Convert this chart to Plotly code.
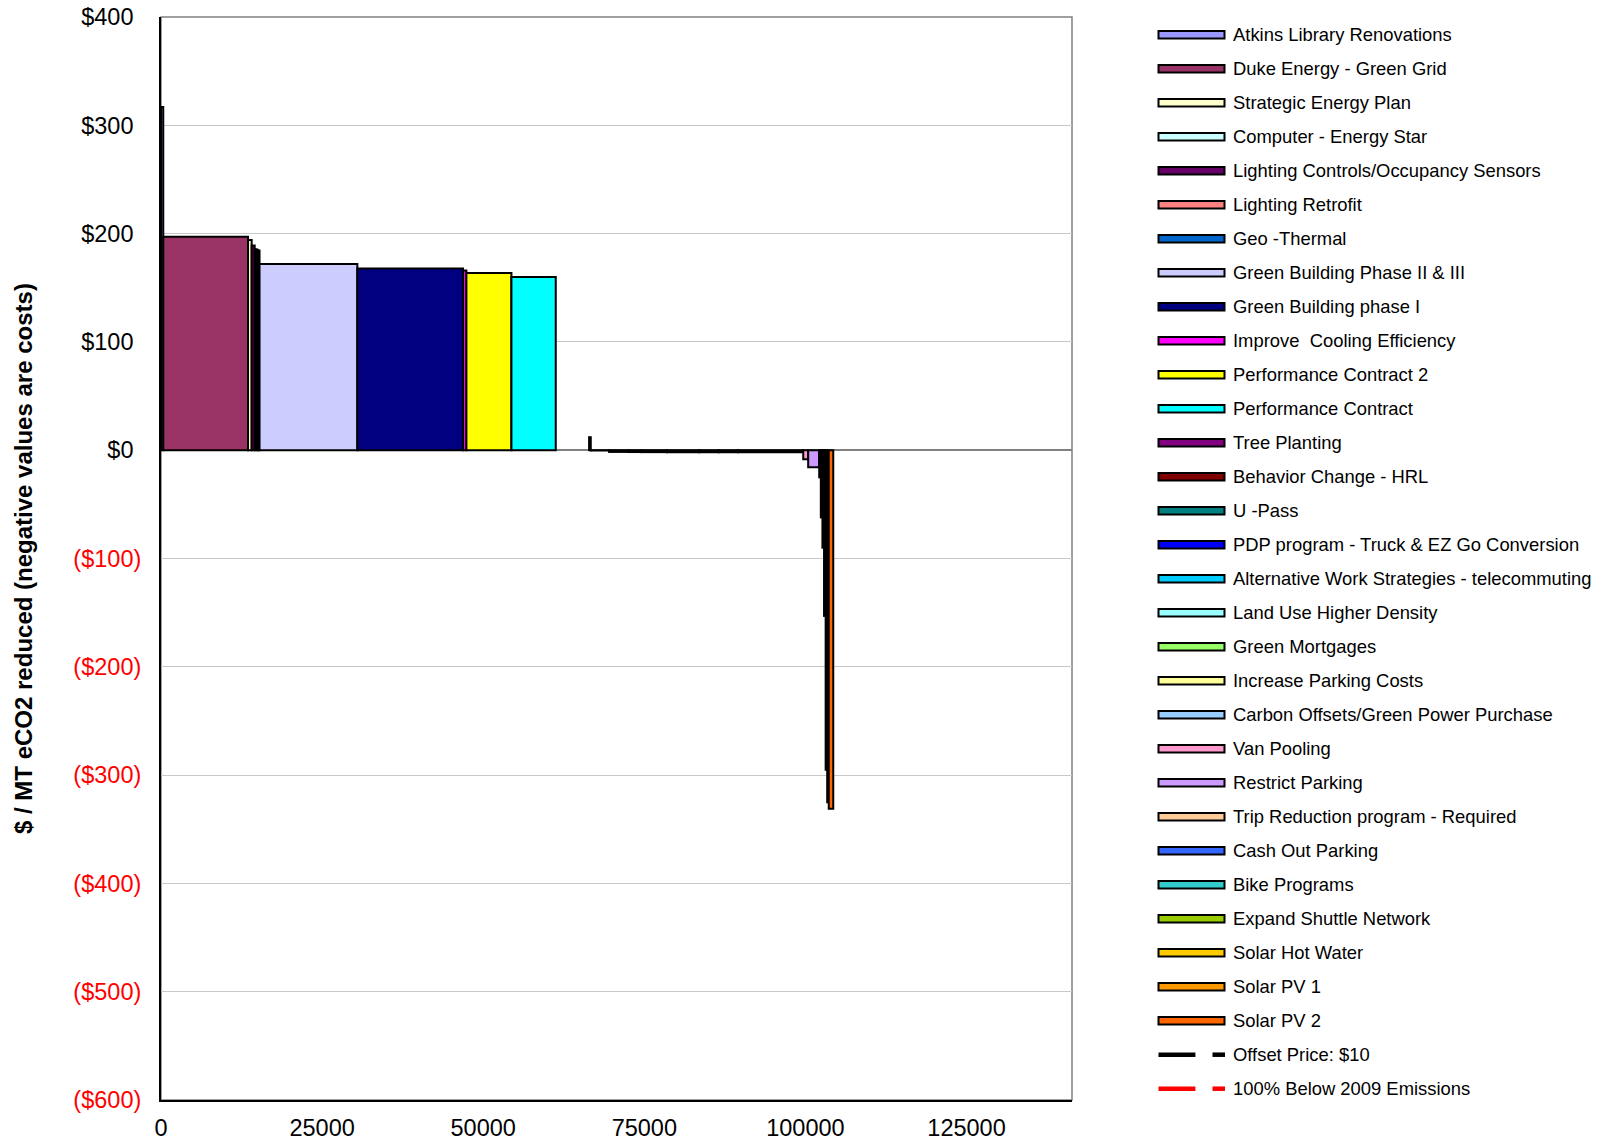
import plotly.graph_objects as go

# ---------------- data (in order along the x axis) ----------------
projects = [
    "Atkins Library Renovations", "Duke Energy - Green Grid", "Strategic Energy Plan",
    "Lighting Controls/Occupancy Sensors", "Computer - Energy Star", "Lighting Retrofit",
    "Geo -Thermal", "Green Building Phase II & III", "Green Building phase I",
    "Improve  Cooling Efficiency", "Performance Contract 2", "Performance Contract",
    None,
    "Tree Planting", "Behavior Change - HRL", "U -Pass", "PDP program - Truck & EZ Go Conversion",
    "Alternative Work Strategies - telecommuting", "Land Use Higher Density", "Green Mortgages",
    "Increase Parking Costs", "Carbon Offsets/Green Power Purchase", "Van Pooling",
    "Restrict Parking", "Trip Reduction program - Required", "Cash Out Parking",
    "Bike Programs", "Expand Shuttle Network", "Solar Hot Water", "Solar PV 1", "Solar PV 2",
]
# MT eCO2 reduced by each measure
reductions = [
    350, 13150, 570,
    470, 300, 200,
    250, 15180, 16400,
    520, 6990, 6880,
    5170,
    260, 2840, 3000, 2000,
    4000, 5000, 3000,
    3000, 10130, 770,
    1710, 250, 250,
    250, 250, 240, 240, 700,
]
# $ / MT eCO2 reduced
costs = [
    317, 197, 194,
    189, 185.5, 185,
    184.5, 172, 167.7,
    166, 163.7, 160,
    None,
    12, -0.3, -1.6, -1.7,
    -1.8, -1.8, -1.9,
    -1.9, -2.0, -8.4,
    -15.8, -25, -62,
    -90, -153, -295, -325, -331,
]

legend_names = [
    "Atkins Library Renovations", "Duke Energy - Green Grid", "Strategic Energy Plan",
    "Computer - Energy Star", "Lighting Controls/Occupancy Sensors", "Lighting Retrofit",
    "Geo -Thermal", "Green Building Phase II & III", "Green Building phase I",
    "Improve  Cooling Efficiency", "Performance Contract 2", "Performance Contract",
    "Tree Planting", "Behavior Change - HRL", "U -Pass", "PDP program - Truck & EZ Go Conversion",
    "Alternative Work Strategies - telecommuting", "Land Use Higher Density", "Green Mortgages",
    "Increase Parking Costs", "Carbon Offsets/Green Power Purchase", "Van Pooling",
    "Restrict Parking", "Trip Reduction program - Required", "Cash Out Parking",
    "Bike Programs", "Expand Shuttle Network", "Solar Hot Water", "Solar PV 1", "Solar PV 2",
]
legend_colors = [
    "#9999FF", "#993366", "#FFFFCC", "#CCFFFF", "#660066", "#FF8080", "#0066CC", "#CCCCFF",
    "#000080", "#FF00FF", "#FFFF00", "#00FFFF", "#800080", "#800000", "#008080", "#0000FF",
    "#00CCFF", "#99FFFF", "#99FF66", "#FFFF99", "#99CCFF", "#FF99CC", "#CC99FF", "#FFCC99",
    "#3366FF", "#33CCCC", "#99CC00", "#FFCC00", "#FF9900", "#FF6600",
]
line_series = ["Offset Price: $10", "100% Below 2009 Emissions"]
line_colors = ["#000000", "#FF0000"]

x_ticks = [0, 25000, 50000, 75000, 100000, 125000]
y_ticks = [400, 300, 200, 100, 0, -100, -200, -300, -400, -500, -600]

color_of = dict(zip(legend_names, legend_colors))

# ---------------- figure ----------------
fig = go.Figure()
start = 0
for name, w, c in zip(projects, reductions, costs):
    if name is not None and c is not None:
        fig.add_trace(go.Bar(
            x=[start], y=[c], width=[w], offset=0, name=name,
            marker=dict(color=color_of[name], line=dict(color="black", width=2)),
            showlegend=False,
        ))
    start += w

def fmt_y(v):
    # accounting format: negatives in red parentheses, positives padded by a paren width
    if v < 0:
        return '<span style="color:#FF0000">($%d)</span>' % (-v)
    return '$%d<span style="color:rgba(0,0,0,0)">)</span>' % v

W_FIG, H_FIG = 1602, 1143
ML, MR, MT, MB = 161, 530, 17, 43
PW, PH = W_FIG - ML - MR, H_FIG - MT - MB

def px(xp):
    return (xp - ML) / PW

def py(yp):
    return (H_FIG - MB - yp) / PH

shapes = []
annotations = []

# plot frame (gray top/right)
shapes.append(dict(type="rect", xref="paper", yref="paper", x0=0, x1=1, y0=0, y1=1,
                   line=dict(color="#808080", width=1.5), layer="below"))

# manual legend
y0 = 34.7
step = 34.0
for i, (name, col) in enumerate(zip(legend_names, legend_colors)):
    yc = y0 + i * step
    shapes.append(dict(type="rect", xref="paper", yref="paper",
                       x0=px(1158.5), x1=px(1224.5), y0=py(yc + 3.8), y1=py(yc - 3.8),
                       fillcolor=col, line=dict(color="black", width=2)))
    annotations.append(dict(xref="paper", yref="paper", x=px(1231), y=py(yc),
                            xanchor="left", yanchor="middle", text=name, showarrow=False,
                            font=dict(size=18.4, color="black")))
for j, (name, col) in enumerate(zip(line_series, line_colors)):
    yc = y0 + (len(legend_names) + j) * step
    for xa, xb in [(1158.5, 1195.4), (1212.5, 1225.0)]:
        shapes.append(dict(type="line", xref="paper", yref="paper",
                           x0=px(xa), x1=px(xb), y0=py(yc), y1=py(yc),
                           line=dict(color=col, width=4.5)))
    annotations.append(dict(xref="paper", yref="paper", x=px(1231), y=py(yc),
                            xanchor="left", yanchor="middle", text=name, showarrow=False,
                            font=dict(size=18.4, color="black")))

# y-axis title
annotations.append(dict(xref="paper", yref="paper", x=px(23.5), y=0.5, textangle=-90,
                        xanchor="center", yanchor="middle", showarrow=False,
                        text="<b>$ / MT eCO2 reduced (negative values are costs)</b>",
                        font=dict(size=24, color="black")))

fig.update_layout(
    width=W_FIG, height=H_FIG,
    margin=dict(l=ML, r=MR, t=MT, b=MB, pad=0, autoexpand=False),
    paper_bgcolor="white", plot_bgcolor="white",
    font=dict(family="Liberation Sans, Arial, sans-serif", color="black"),
    barmode="overlay",
    showlegend=False,
    shapes=shapes,
    annotations=annotations,
    xaxis=dict(
        range=[0, 141370], tickmode="array", tickvals=x_ticks,
        ticktext=[str(v) for v in x_ticks], showgrid=False, zeroline=False,
        showline=True, linecolor="black", linewidth=2, ticks="",
        tickfont=dict(size=23.5), ticklabelstandoff=6, automargin=False,
        layer="below traces",
    ),
    yaxis=dict(
        range=[-600, 400], tickmode="array", tickvals=y_ticks,
        ticktext=[fmt_y(v) for v in y_ticks], showgrid=True, gridcolor="#C8C8C8",
        gridwidth=1, zeroline=True, zerolinecolor="#808080", zerolinewidth=1.5,
        showline=True, linecolor="black", linewidth=2, ticks="",
        tickfont=dict(size=23.5), ticklabelstandoff=13, automargin=False,
        layer="below traces",
    ),
)

fig.write_html("out.html")
